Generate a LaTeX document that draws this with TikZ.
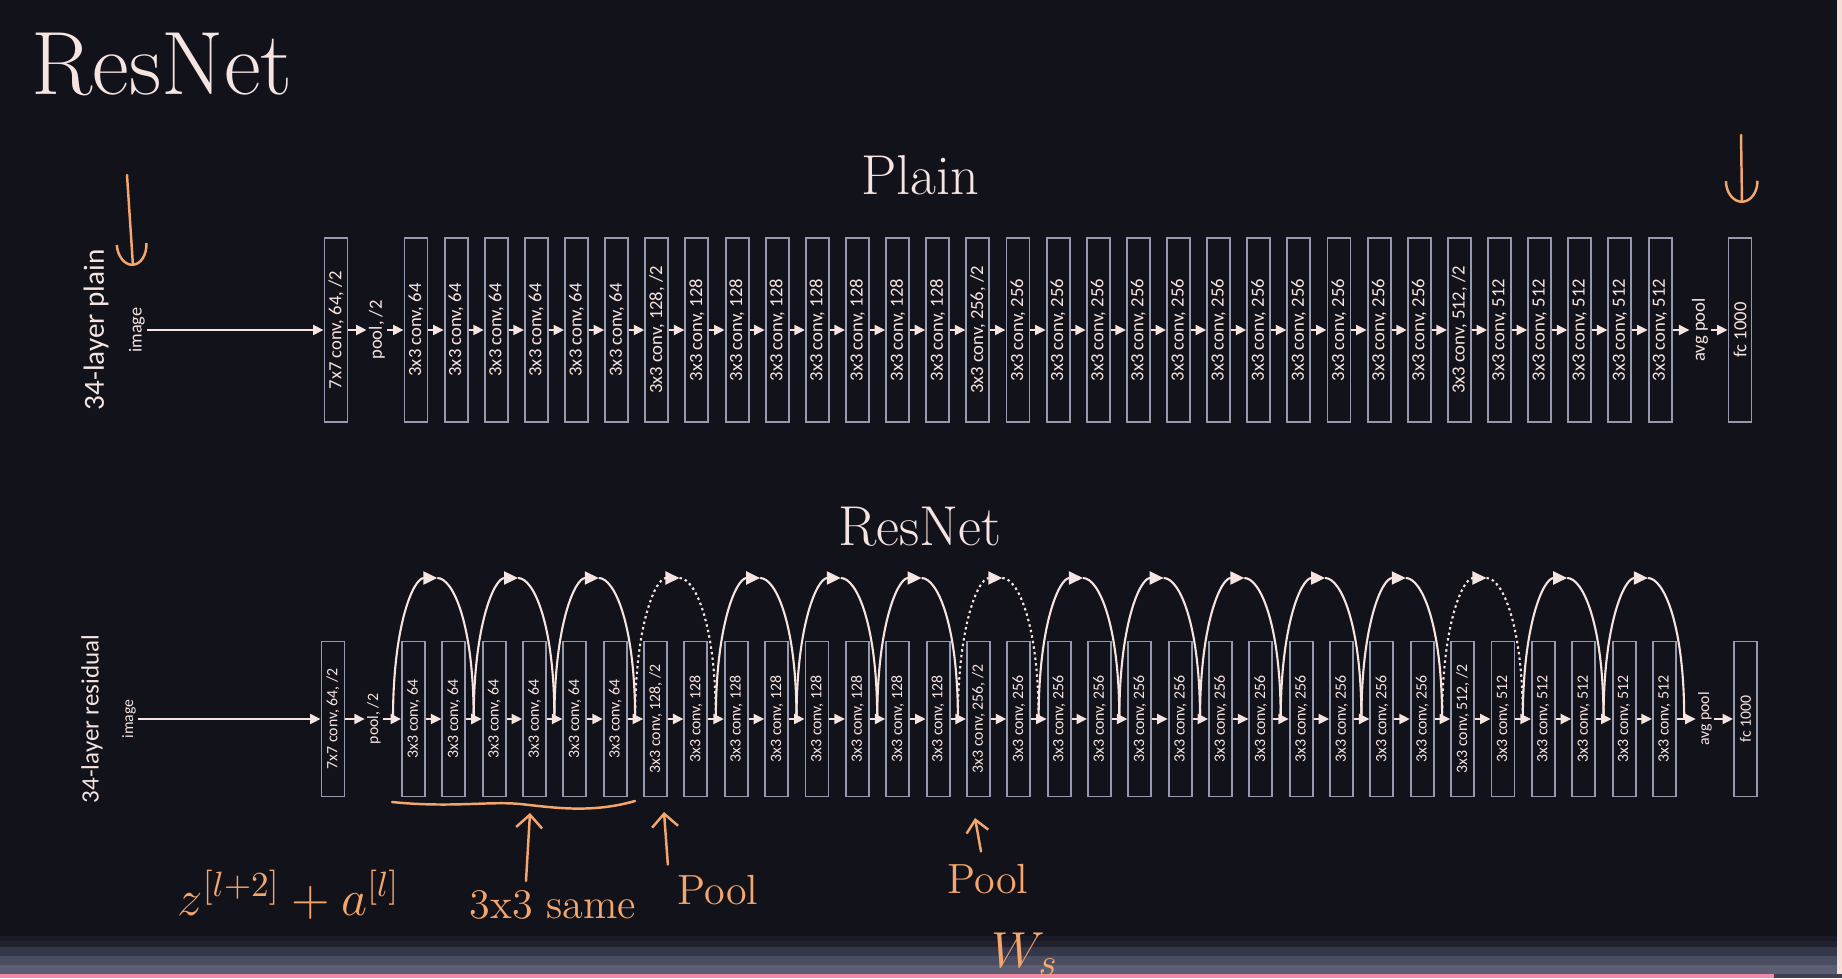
\documentclass[tikz,border=0pt]{standalone}
\usepackage{fontspec}
\newfontfamily\boxfont{Carlito}
\usetikzlibrary{arrows.meta,calc}

\definecolor{slidebg}{RGB}{18,18,26}
\definecolor{boxline}{RGB}{151,153,174}
\definecolor{ink}{RGB}{246,228,224}
\definecolor{handink}{RGB}{244,166,108}
\definecolor{edgepink}{RGB}{247,221,216}
\definecolor{barpink}{RGB}{242,138,168}
\definecolor{barA}{RGB}{26,26,38}
\definecolor{barB}{RGB}{34,34,47}
\definecolor{barC}{RGB}{52,54,74}
\definecolor{barD}{RGB}{74,76,97}
\definecolor{barE}{RGB}{92,94,116}
\definecolor{barF}{RGB}{62,64,82}

\newcommand\convlist{1/64,2/64,3/64,4/64,5/64,6/64,7/{128, /2},8/128,9/128,10/128,11/128,12/128,13/128,14/128,15/{256, /2},16/256,17/256,18/256,19/256,20/256,21/256,22/256,23/256,24/256,25/256,26/256,27/{512, /2},28/512,29/512,30/512,31/512,32/512}

\tikzset{
	convbox/.style={draw=boxline, line width=0.55pt, fill=slidebg, minimum width=0.23cm, inner sep=0pt, text=ink},
	plainbox/.style={convbox, minimum height=1.84cm, font=\boxfont\fontsize{5.3}{6}\selectfont},
	resbox/.style={convbox, minimum height=1.55cm, font=\boxfont\fontsize{4.5}{5}\selectfont},
	flow/.style={color=ink, line width=0.55pt, -{Triangle[length=1.05mm,width=1mm]}},
	skip/.style={color=ink, line width=0.6pt},
	dotskip/.style={skip, dash pattern=on 0.7pt off 0.9pt},
	skiptip/.style={-{Triangle[length=1.4mm,width=1.3mm]}},
	scrawl/.style={color=handink, line width=0.7pt, line cap=round, line join=round},
	handtext/.style={text=handink, inner sep=0pt},
}

\begin{document}
\begin{tikzpicture}

	% slide background
	\useasboundingbox (0,0) rectangle (18.42,9.78);
	\fill[slidebg] (0,0) rectangle (18.42,9.78);
	\fill[edgepink] (18.37,0.04) rectangle (18.42,9.78);

	\node[anchor=base west, text=ink, inner sep=0pt, font=\fontsize{25.6}{30}\selectfont] (title) at (0.31,8.83) {ResNet};

	% plain network
	\node[anchor=base, text=ink, font=\fontsize{16}{19}\selectfont] (plainhead) at (9.20,7.83) {Plain};
	\node[text=ink, inner sep=0.5pt, font=\boxfont\fontsize{8.3}{10}\selectfont] (plabel) at (0.96,6.48) {\rotatebox{90}{34-layer plain}};
	\node[text=ink, inner sep=0.5pt, font=\boxfont\fontsize{5.2}{6}\selectfont] (pimg) at (1.37,6.48) {\rotatebox{90}{image}};
	\node[plainbox] (p0) at (3.36,6.48) {\rotatebox{90}{7x7 conv, 64, /2}};
	\node[text=ink, inner sep=0.5pt, font=\boxfont\fontsize{5.3}{6}\selectfont] (ppool) at (3.77,6.48) {\rotatebox{90}{pool, /2}};
	\foreach \i/\t in \convlist
		\node[plainbox] (p\i) at ({4.16+0.4013*(\i-1)},6.48) {\rotatebox{90}{3x3 conv, \t}};
	\node[text=ink, inner sep=0.5pt, font=\boxfont\fontsize{5.3}{6}\selectfont] (pavg) at (17.00,6.48) {\rotatebox{90}{avg pool}};
	\node[plainbox] (pfc) at (17.40,6.48) {\rotatebox{90}{fc 1000}};

	\draw[flow] (pimg) -- (p0);
	\draw[flow] (p0) -- (ppool);
	\draw[flow] (ppool) -- (p1);
	\foreach \i [evaluate=\i as \j using int(\i+1)] in {1,...,31}
		\draw[flow] (p\i) -- (p\j);
	\draw[flow] (p32) -- (pavg);
	\draw[flow] (pavg) -- (pfc);

	% residual network
	\node[anchor=base, text=ink, font=\fontsize{16}{19}\selectfont] (reshead) at (9.20,4.33) {ResNet};
	\node[text=ink, inner sep=0.5pt, font=\boxfont\fontsize{7.1}{9}\selectfont] (rlabel) at (0.92,2.59) {\rotatebox{90}{34-layer residual}};
	\node[text=ink, inner sep=0.5pt, font=\boxfont\fontsize{4.5}{5}\selectfont] (rimg) at (1.29,2.59) {\rotatebox{90}{image}};
	\node[resbox] (r0) at (3.33,2.59) {\rotatebox{90}{7x7 conv, 64, /2}};
	\node[text=ink, inner sep=0.5pt, font=\boxfont\fontsize{4.5}{5}\selectfont] (rpool) at (3.74,2.59) {\rotatebox{90}{pool, /2}};
	\foreach \i/\t in \convlist
		\node[resbox] (r\i) at ({4.135+0.4035*(\i-1)},2.59) {\rotatebox{90}{3x3 conv, \t}};
	\node[text=ink, inner sep=0.5pt, font=\boxfont\fontsize{4.5}{5}\selectfont] (ravg) at (17.05,2.59) {\rotatebox{90}{avg pool}};
	\node[resbox] (rfc) at (17.455,2.59) {\rotatebox{90}{fc 1000}};

	\draw[flow] (rimg) -- (r0);
	\draw[flow] (r0) -- (rpool);
	\draw[flow] (rpool) -- (r1);
	\foreach \i [evaluate=\i as \j using int(\i+1)] in {1,...,31}
		\draw[flow] (r\i) -- (r\j);
	\draw[flow] (r32) -- (ravg);
	\draw[flow] (ravg) -- (rfc);

	% shortcut connections, each drawn in two halves so the tip sits on top
	\foreach \k in {0,...,16}
		\coordinate (rg\k) at ({3.93+0.807*\k},2.59);
	\foreach \k in {0,...,15}
		\coordinate (rt\k) at ({4.3335+0.807*\k+0.04},4.00);
	\foreach \k/\s [evaluate=\k as \m using int(\k+1)] in {0/skip,1/skip,2/skip,3/dotskip,4/skip,5/skip,6/skip,7/dotskip,8/skip,9/skip,10/skip,11/skip,12/skip,13/dotskip,14/skip,15/skip}
	{
		\draw[\s, skiptip] (rg\k) .. controls +(0,0.94) and +(-0.24,0) .. (rt\k);
		\draw[\s] (rt\k) .. controls +(0.16,0) and +(0,0.94) .. (rg\m);
	}

	% bottom bar of the screen
	\fill[barA] (0,0.37) rectangle (18.37,0.42);
	\fill[barB] (0,0.31) rectangle (18.37,0.37);
	\fill[barC] (0,0.22) rectangle (18.37,0.31);
	\fill[barD] (0,0.13) rectangle (18.37,0.22);
	\fill[barE] (0,0.04) rectangle (18.37,0.13);
	\fill[barpink] (0,0) rectangle (17.74,0.04);
	\fill[barF] (17.74,0) rectangle (18.42,0.04);

	% handwritten notes
	\coordinate (tlA) at (1.27,8.03);
	\coordinate (tlB) at (1.33,7.12);
	\draw[scrawl, -{Arc Barb[length=2.2mm,width=3.2mm]}] (tlA) -- (tlB);
	\coordinate (trA) at (17.41,8.43);
	\coordinate (trB) at (17.42,7.75);
	\draw[scrawl, -{Arc Barb[length=2.2mm,width=3.4mm]}] (trA) -- (trB);

	\draw[scrawl] (3.92,1.76) .. controls (4.5,1.70) and (4.9,1.77) .. (5.2,1.74)
		.. controls (5.5,1.71) and (5.9,1.64) .. (6.35,1.77);

	\node[handtext, anchor=base west, font=\fontsize{14.5}{17}\selectfont] (zsum) at (1.77,0.63) {$z^{[l+2]}+a^{[l]}$};

	\node[handtext, font=\fontsize{12}{14}\selectfont] (same) at (5.53,0.73) {3x3 same};
	\coordinate (sameTip) at (5.30,1.65);
	\draw[scrawl, -{Straight Barb[length=1.3mm,width=2.6mm]}] ($(same.north)+(-0.27,0.09)$) -- (sameTip);

	\node[handtext, font=\fontsize{12}{14}\selectfont] (poolA) at (7.18,0.88) {Pool};
	\coordinate (poolATip) at (6.64,1.66);
	\draw[scrawl, -{Straight Barb[length=1.3mm,width=2.6mm]}] ($(poolA.north west)+(-0.09,0.10)$) -- (poolATip);

	\node[handtext, font=\fontsize{12}{14}\selectfont] (poolB) at (9.88,0.99) {Pool};
	\coordinate (poolBTip) at (9.75,1.60);
	\draw[scrawl, -{Straight Barb[length=1.2mm,width=2.2mm]}] ($(poolB.north)+(-0.07,0.12)$) -- (poolBTip);

	\node[handtext, font=\fontsize{15}{17}\selectfont] (ws) at (10.25,0.24) {$W_s$};

\end{tikzpicture}
\end{document}
